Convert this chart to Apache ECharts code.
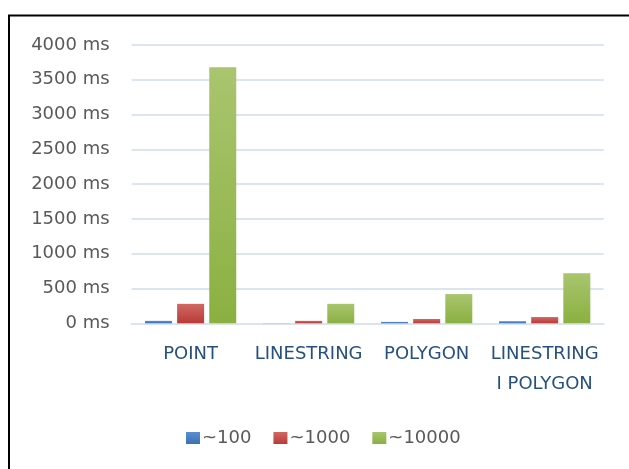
<!DOCTYPE html>
<html>
<head>
<meta charset="utf-8">
<script src="https://cdn.jsdelivr.net/npm/echarts@6/dist/echarts.min.js"></script>
<style>
html,body{margin:0;padding:0;background:#fff;}
#chart{width:629px;height:469px;}
</style>
</head>
<body>
<div id="chart"></div>
<script>
var categories = ['POINT', 'LINESTRING', 'POLYGON', 'LINESTRING\nI POLYGON'];
var seriesNames = ['~100', '~1000', '~10000'];
var values100 = [35, 2, 20, 30];
var values1000 = [280, 35, 62, 90];
var values10000 = [3680, 280, 420, 720];

function grad(top, bottom) {
  return new echarts.graphic.LinearGradient(0, 0, 0, 1, [
    {offset: 0, color: top}, {offset: 1, color: bottom}
  ]);
}
var colors = [
  grad('#5a8fd2', '#3c70b3'),
  grad('#d06864', '#b93b37'),
  grad('#a9c56f', '#8bb041')
];

var chart = echarts.init(document.getElementById('chart'), null, {renderer: 'canvas'});
var font = 'DejaVu Sans';
var dataSets = [values100, values1000, values10000];
var option = {
  animation: false,
  backgroundColor: '#ffffff',
  graphic: [{
    type: 'rect',
    shape: {x: 9, y: 15.5, width: 700, height: 500},
    style: {fill: 'none', stroke: '#000', lineWidth: 2},
    silent: true
  }],
  grid: {left: 131.6, right: 25.3, top: 45, bottom: 145.7, containLabel: false},
  legend: {
    bottom: 22,
    left: 186,
    padding: 0,
    itemWidth: 14,
    itemHeight: 12,
    itemGap: 22,
    icon: 'rect',
    textStyle: {fontFamily: font, fontSize: 18, color: '#595959', padding: [0,0,0,-3]},
    data: seriesNames
  },
  xAxis: {
    type: 'category',
    data: categories,
    axisLine: {show: true, lineStyle: {color: '#dbe5f2', width: 2}},
    axisTick: {show: false},
    axisLabel: {interval: 0, margin: 16, fontFamily: font, fontSize: 18, color: '#26507f', lineHeight: 30}
  },
  yAxis: {
    type: 'value',
    min: 0,
    max: 4000,
    interval: 500,
    axisLine: {show: false},
    axisTick: {show: false},
    splitLine: {lineStyle: {color: '#dbe5f2', width: 2}},
    axisLabel: {margin: 22, fontFamily: font, fontSize: 18, color: '#595959',
      formatter: function (v) { return v + ' ms'; }}
  },
  series: seriesNames.map(function (name, i) {
    return {
      name: name,
      type: 'bar',
      data: dataSets[i],
      barWidth: 27,
      barGap: '19%',
      itemStyle: {color: colors[i]}
    };
  })
};
chart.setOption(option);
</script>
</body>
</html>
